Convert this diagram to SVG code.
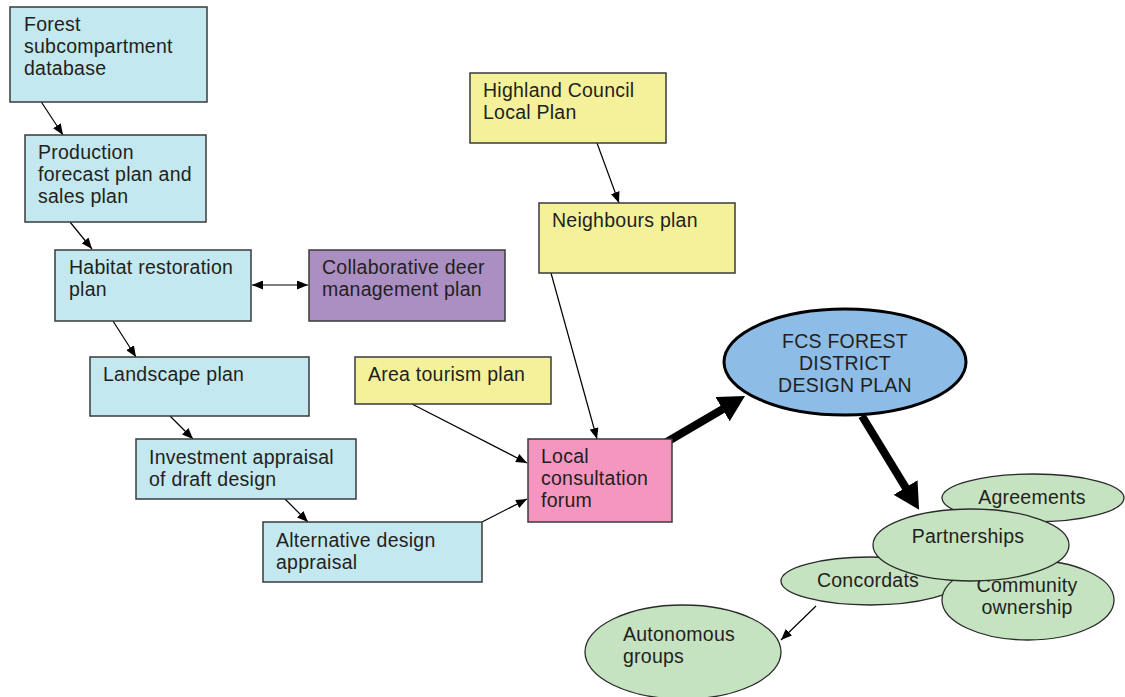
<svg xmlns="http://www.w3.org/2000/svg" width="1125" height="697" viewBox="0 0 1125 697">
<style>
text{font-family:"Liberation Sans",Arial,sans-serif;font-size:19.5px;letter-spacing:0.25px;fill:#231f20}
.box{stroke:#3a3a3a;stroke-width:1.5}
.blue{fill:#c4e8ef}.yel{fill:#f5f19b}.pur{fill:#ab8fc3}.pink{fill:#f596c0}
.grn{fill:#c5e3c0;stroke:#2a2a2a;stroke-width:1.3}
.c{stroke:#000;stroke-width:1.2;fill:none}
.thick{stroke:#000;stroke-width:8;fill:none}
.mid{text-anchor:middle}
</style>
<defs>
<marker id="ah" markerUnits="userSpaceOnUse" viewBox="0 0 11 9" markerWidth="11" markerHeight="9" refX="11" refY="4.5" orient="auto"><path d="M0,0 L11,4.5 L0,9 z" fill="#000"/></marker>
<marker id="ahs" markerUnits="userSpaceOnUse" viewBox="0 0 11 9" markerWidth="11" markerHeight="9" refX="11" refY="4.5" orient="auto-start-reverse"><path d="M0,0 L11,4.5 L0,9 z" fill="#000"/></marker>
<marker id="big" markerUnits="userSpaceOnUse" viewBox="0 0 26 28" markerWidth="26" markerHeight="28" refX="2" refY="14" orient="auto"><path d="M0,0 L26,14 L0,28 z" fill="#000"/></marker>
</defs>
<g id="connectors">
<line class="c" x1="40" y1="100" x2="63" y2="135" marker-end="url(#ah)"/>
<line class="c" x1="70" y1="222" x2="92" y2="249" marker-end="url(#ah)"/>
<line class="c" x1="252" y1="285" x2="308" y2="285" marker-start="url(#ahs)" marker-end="url(#ahs)"/>
<line class="c" x1="113" y1="321" x2="136" y2="357" marker-end="url(#ah)"/>
<line class="c" x1="170" y1="416" x2="193" y2="439" marker-end="url(#ah)"/>
<line class="c" x1="285" y1="499" x2="308" y2="522" marker-end="url(#ah)"/>
<line class="c" x1="482" y1="522" x2="527" y2="499" marker-end="url(#ah)"/>
<line class="c" x1="412" y1="404" x2="527" y2="463" marker-end="url(#ah)"/>
<line class="c" x1="597" y1="143" x2="619" y2="203" marker-end="url(#ah)"/>
<line class="c" x1="551" y1="273" x2="597" y2="439" marker-end="url(#ah)"/>
<line class="c" x1="816" y1="606" x2="781" y2="640" marker-end="url(#ah)"/>
<line class="thick" x1="665" y1="443" x2="724.3" y2="408.2" marker-end="url(#big)"/>
<line class="thick" x1="862" y1="416" x2="906.6" y2="489.2" marker-end="url(#big)"/>
</g>
<g id="n1"><rect class="box blue" x="10" y="7" width="197" height="95"/><text x="24" y="31">Forest</text><text x="24" y="53">subcompartment</text><text x="24" y="75">database</text></g>
<g id="n2"><rect class="box blue" x="25" y="135" width="181" height="87"/><text x="38" y="159">Production</text><text x="38" y="181">forecast plan and</text><text x="38" y="203">sales plan</text></g>
<g id="n3"><rect class="box blue" x="55" y="250" width="196" height="71"/><text x="69" y="274">Habitat restoration</text><text x="69" y="296">plan</text></g>
<g id="n4"><rect class="box pur" x="309" y="250" width="196" height="71"/><text x="322" y="274">Collaborative deer</text><text x="322" y="296">management plan</text></g>
<g id="n5"><rect class="box blue" x="90" y="357" width="219" height="59"/><text x="103" y="381">Landscape plan</text></g>
<g id="n6"><rect class="box yel" x="355" y="357" width="196" height="47"/><text x="368" y="381">Area tourism plan</text></g>
<g id="n7"><rect class="box blue" x="136" y="439" width="220" height="60"/><text x="149" y="464">Investment appraisal</text><text x="149" y="486">of draft design</text></g>
<g id="n8"><rect class="box blue" x="263" y="522" width="219" height="60"/><text x="276" y="547">Alternative design</text><text x="276" y="569">appraisal</text></g>
<g id="n9"><rect class="box yel" x="470" y="73" width="196" height="70"/><text x="483" y="97">Highland Council</text><text x="483" y="119">Local Plan</text></g>
<g id="n10"><rect class="box yel" x="539" y="203" width="196" height="70"/><text x="552" y="227">Neighbours plan</text></g>
<g id="n11"><rect class="box pink" x="528" y="439" width="144" height="83"/><text x="541" y="463">Local</text><text x="541" y="485">consultation</text><text x="541" y="507">forum</text></g>
<g id="n12"><ellipse cx="845" cy="362" rx="121" ry="53" fill="#8dbde6" stroke="#000" stroke-width="3"/><text class="mid" x="845" y="348">FCS FOREST</text><text class="mid" x="845" y="370">DISTRICT</text><text class="mid" x="845" y="392">DESIGN PLAN</text></g>
<g id="n13"><ellipse class="grn" cx="1033" cy="498" rx="91" ry="24"/><text class="mid" x="1032" y="504">Agreements</text></g>
<g id="n14"><ellipse class="grn" cx="870" cy="581" rx="89" ry="24"/><text class="mid" x="868" y="587">Concordats</text></g>
<g id="n15"><ellipse class="grn" cx="1028" cy="600" rx="86" ry="40"/><text class="mid" x="1027" y="592">Community</text><text class="mid" x="1027" y="614">ownership</text></g>
<g id="n16"><ellipse class="grn" cx="971" cy="545" rx="98" ry="36"/><text class="mid" x="968" y="543">Partnerships</text></g>
<g id="n17"><ellipse class="grn" cx="683" cy="652" rx="98" ry="47"/><text x="623" y="641">Autonomous</text><text x="623" y="663">groups</text></g>
</svg>
